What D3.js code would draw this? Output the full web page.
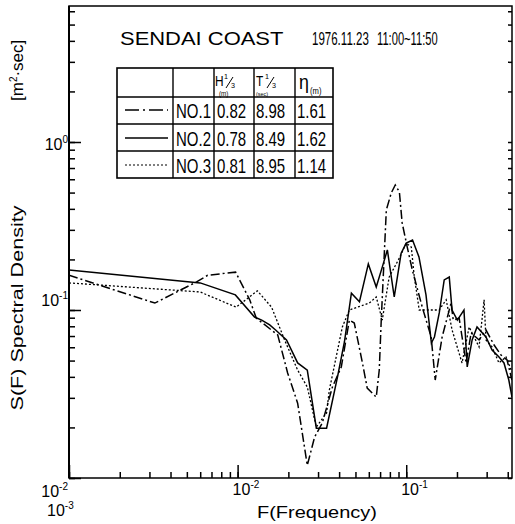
<!DOCTYPE html>
<html>
<head>
<meta charset="utf-8">
<script src="https://cdn.jsdelivr.net/npm/d3@7"></script>
<style>
  body { margin: 0; background: #fff; }
  svg { display: block; font-family: "Liberation Sans", Arial, sans-serif; }
  .tick line { stroke: #000; stroke-width: 1.5; }
</style>
</head>
<body>
<div id="chart"></div>
<script>
// NO.1 (dash-dot)
const freq1 = [0.001, 0.00323, 0.00571, 0.00664, 0.00973, 0.0118, 0.0129, 0.0173, 0.0198, 0.0227,
  0.0259, 0.0286, 0.0318, 0.0365, 0.0412, 0.0460, 0.0492, 0.0550, 0.0587, 0.0664,
  0.0692, 0.0711, 0.0762, 0.0815, 0.0861, 0.0911, 0.0946, 0.1014, 0.1087, 0.1245,
  0.1406, 0.1486, 0.1633, 0.1845, 0.190, 0.206, 0.2265, 0.2427, 0.2704, 0.2972,
  0.332, 0.3648, 0.3963, 0.4236];
const dens1 = [0.161, 0.110, 0.147, 0.161, 0.168, 0.115, 0.0895, 0.071, 0.0422, 0.0279,
  0.0119, 0.0175, 0.0213, 0.0348, 0.0458, 0.0871, 0.0837, 0.0484, 0.0343, 0.0303,
  0.0439, 0.0871, 0.394, 0.497, 0.555, 0.504, 0.330, 0.237, 0.173, 0.104,
  0.0691, 0.0383, 0.0691, 0.110, 0.0871, 0.0895, 0.0484, 0.073, 0.0663, 0.076,
  0.0619, 0.054, 0.0504, 0.0383];

// NO.2 (solid)
const freq2 = [0.001, 0.006, 0.0097, 0.0126, 0.0139, 0.0155, 0.0168, 0.0195, 0.0227, 0.0259,
  0.0293, 0.0337, 0.0391, 0.0430, 0.0473, 0.0528, 0.0596, 0.0664, 0.0721, 0.0773,
  0.0849, 0.0933, 0.100, 0.109, 0.119, 0.131, 0.141, 0.147, 0.157, 0.168,
  0.180, 0.187, 0.201, 0.220, 0.230, 0.246, 0.263, 0.297, 0.323, 0.355,
  0.380, 0.406, 0.424];
const dens2 = [0.173, 0.145, 0.123, 0.0908, 0.0871, 0.0815, 0.076, 0.0663, 0.0484, 0.0439,
  0.0198, 0.0198, 0.0399, 0.0645, 0.126, 0.112, 0.188, 0.137, 0.180, 0.228,
  0.1195, 0.218, 0.250, 0.261, 0.207, 0.123, 0.0636, 0.0691, 0.096, 0.151,
  0.157, 0.100, 0.0871, 0.100, 0.0458, 0.0663, 0.0792, 0.0691, 0.0578, 0.0525,
  0.0484, 0.0383, 0.0303];

// NO.3 (dotted)
const freq3 = [0.001, 0.006, 0.0098, 0.0131, 0.0159, 0.0190, 0.0227, 0.0259, 0.0293, 0.0337,
  0.0350, 0.0418, 0.0460, 0.0604, 0.0664, 0.0721, 0.0792, 0.0911, 0.100, 0.1072,
  0.1114, 0.1194, 0.1312, 0.1567, 0.1726, 0.1871, 0.2143, 0.2361, 0.2704, 0.2897,
  0.2972, 0.3228, 0.3548, 0.3908, 0.4236];
const dens3 = [0.145, 0.128, 0.104, 0.130, 0.104, 0.0663, 0.0439, 0.0348, 0.0201, 0.0244,
  0.0334, 0.0792, 0.100, 0.110, 0.1195, 0.0871, 0.157, 0.204, 0.250, 0.237,
  0.161, 0.100, 0.100, 0.100, 0.115, 0.076, 0.0484, 0.0792, 0.0603, 0.115,
  0.0663, 0.0603, 0.0484, 0.0525, 0.0428];

// table contents
const runNames = ["NO.1", "NO.2", "NO.3"];
const hThird = ["0.82", "0.78", "0.81"];
const tThird = ["8.98", "8.49", "8.95"];
const etaVals = ["1.61", "1.62", "1.14"];

// axis labels
const xMajor = [0.001, 0.01, 0.1];
const xMajorExp = ["-3", "-2", "-1"];
const yMajor = [0.01, 0.1, 1];
const yMajorExp = ["-2", "-1", "0"];

const dashes = ["9,3,2,3", null, "2,2"];

const svg = d3.select("#chart").append("svg")
  .attr("width", 515)
  .attr("height", 524);

// scales
const x = d3.scaleLog().domain([0.001, 0.424]).range([69, 512]);
const y = d3.scaleLog().domain([0.01, 6.45]).range([478, 6]);

// frame
svg.append("rect")
  .attr("x", 69).attr("y", 6)
  .attr("width", 512 - 69).attr("height", 478 - 6)
  .attr("fill", "none").attr("stroke", "#000").attr("stroke-width", 1.5);
svg.append("line")
  .attr("x1", 69).attr("x2", 69).attr("y1", 6).attr("y2", 478)
  .attr("stroke", "#000").attr("stroke-width", 2);

// ticks (inward)
const noDomain = g => g.select(".domain").remove();
svg.append("g")
  .attr("transform", "translate(0,478)")
  .call(d3.axisBottom(x).tickValues(x.ticks()).tickSize(-6).tickFormat(""))
  .call(noDomain);
svg.append("g")
  .attr("transform", "translate(0,478)")
  .call(d3.axisBottom(x).tickValues(xMajor).tickSize(-13).tickFormat(""))
  .call(noDomain);
svg.append("g")
  .attr("transform", "translate(69,0)")
  .call(d3.axisLeft(y).tickValues(y.ticks()).tickSize(-6).tickFormat(""))
  .call(noDomain);
svg.append("g")
  .attr("transform", "translate(69,0)")
  .call(d3.axisLeft(y).tickValues(yMajor).tickSize(-12).tickFormat(""))
  .call(noDomain);
svg.append("g")
  .attr("transform", "translate(512,0)")
  .call(d3.axisRight(y).tickValues(y.ticks()).tickSize(-4).tickFormat(""))
  .call(noDomain);

// power-of-ten labels
function powLabel(px, py, exp, anchor) {
  const t = svg.append("text")
    .attr("x", px).attr("y", py)
    .attr("font-size", 16)
    .attr("text-anchor", anchor || "start");
  t.append("tspan").text("10");
  t.append("tspan").attr("dy", -7).attr("font-size", 10).text(exp);
}
xMajor.forEach((v, i) => {
  if (i === 0) powLabel(x(v) - 22, 516, xMajorExp[i]);
  else powLabel(x(v) - 5, 495, xMajorExp[i]);
});
const yLabelShift = [19, -4, 8];
yMajor.forEach((v, i) => powLabel(68, y(v) + yLabelShift[i], yMajorExp[i], "end"));

// axis titles
svg.append("text")
  .attr("transform", "translate(23,308) rotate(-90)")
  .attr("text-anchor", "middle")
  .attr("font-size", 16)
  .attr("textLength", 205).attr("lengthAdjust", "spacingAndGlyphs")
  .text("S(F)  Spectral Density");
const unit = svg.append("text")
  .attr("transform", "translate(23,101) rotate(-90)")
  .attr("font-size", 17);
unit.append("tspan").text("[m");
unit.append("tspan").attr("dy", -6).attr("font-size", 10).text("2");
unit.append("tspan").attr("dy", 6).text("·sec]");

svg.append("text")
  .attr("x", 257).attr("y", 518)
  .attr("font-size", 17)
  .attr("textLength", 120).attr("lengthAdjust", "spacingAndGlyphs")
  .text("F(Frequency)");

// title, scaled horizontally like the plotter lettering
[["SENDAI COAST", 120, 1.22], ["1976.11.23", 312, 0.64], ["11:00~11:50", 377, 0.62]].forEach(d => {
  svg.append("text")
    .attr("transform", `translate(${d[1]},45) scale(${d[2]},1)`)
    .attr("font-size", 18)
    .text(d[0]);
});

// spectra
svg.append("clipPath").attr("id", "plot")
  .append("rect").attr("x", 69).attr("y", 6).attr("width", 443).attr("height", 472);

const line = d3.line().x(d => x(d[0])).y(d => y(d[1]));
const series = [d3.zip(freq1, dens1), d3.zip(freq2, dens2), d3.zip(freq3, dens3)];
svg.append("g").attr("clip-path", "url(#plot)")
  .selectAll("path")
  .data(series)
  .join("path")
  .attr("d", line)
  .attr("fill", "none")
  .attr("stroke", "#000")
  .attr("stroke-width", (d, i) => i === 2 ? 1.3 : 1.5)
  .attr("stroke-dasharray", (d, i) => dashes[i]);

// table
const colX = [117, 173, 214, 254, 295, 333];
const rowY = [68, 97, 124, 151, 178];
const table = svg.append("g");
table.append("rect")
  .attr("x", colX[0]).attr("y", rowY[0])
  .attr("width", colX[5] - colX[0]).attr("height", rowY[4] - rowY[0])
  .attr("fill", "#fff").attr("stroke", "#000").attr("stroke-width", 1.6);
colX.slice(1, 5).forEach(cx => table.append("line")
  .attr("x1", cx).attr("x2", cx).attr("y1", rowY[0]).attr("y2", rowY[4])
  .attr("stroke", "#000").attr("stroke-width", 1.4));
rowY.slice(1, 4).forEach(ry => table.append("line")
  .attr("x1", colX[0]).attr("x2", colX[5]).attr("y1", ry).attr("y2", ry)
  .attr("stroke", "#000").attr("stroke-width", 1.4));

function ctext(px, py, s, size, sx) {
  return table.append("text")
    .attr("transform", `translate(${px},${py}) scale(${sx},1)`)
    .attr("font-size", size)
    .text(s);
}
function slash(px, py) {
  table.append("line")
    .attr("x1", px).attr("y1", py + 7).attr("x2", px + 7).attr("y2", py - 4)
    .attr("stroke", "#000").attr("stroke-width", 1);
}

// header
ctext(215, 86, "H", 14, 0.85);
ctext(224, 79, "1", 8, 0.9);
slash(226, 81);
ctext(231, 88, "3", 8, 0.9);
ctext(219, 96, "(m)", 7, 0.9);
ctext(256, 86, "T", 14, 0.85);
ctext(265, 79, "1", 8, 0.9);
slash(267, 81);
ctext(272, 88, "3", 8, 0.9);
ctext(256, 96, "(sec)", 6, 0.9);
ctext(299, 89, "η", 21, 0.85);
ctext(310, 94, "(m)", 9, 0.85);

// rows
const rowBase = [118, 146, 173];
const rowMid = [110, 138, 165];
runNames.forEach((name, i) => {
  table.append("line")
    .attr("x1", 125).attr("x2", 168)
    .attr("y1", rowMid[i]).attr("y2", rowMid[i])
    .attr("stroke", "#000")
    .attr("stroke-width", i === 2 ? 1.2 : 1.5)
    .attr("stroke-dasharray", i === 0 ? "14,4,2,4" : dashes[i]);
  ctext(176, rowBase[i], name, 20, 0.75);
  ctext(217, rowBase[i], hThird[i], 20, 0.75);
  ctext(256, rowBase[i], tThird[i], 20, 0.75);
  ctext(297, rowBase[i], etaVals[i], 20, 0.75);
});
</script>
</body>
</html>
